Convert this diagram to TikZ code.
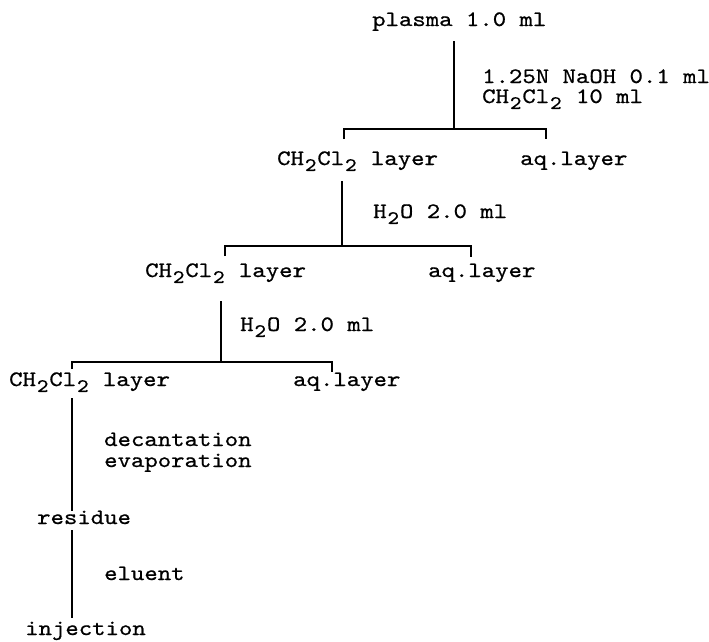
\documentclass[tikz,border=0pt]{standalone}
\usepackage{fontspec}
\newfontfamily\tx{lmmono10-regular.otf}[FakeStretch=1.16,FakeBold=0.7]
% lowered digit occupying one monospace cell
\newcommand\lo[1]{\raisebox{-0.27em}{\makebox[0.609em][c]{\fontsize{19}{19}\selectfont#1}}}
\begin{document}
\begin{tikzpicture}[x=1pt,y=-1pt,
  txt/.style={anchor=base west, inner sep=0pt, font=\tx\fontsize{22}{24}\selectfont},
  link/.style={line width=1.8pt}]
\useasboundingbox (0,0) rectangle (709,641);

% texts
\node[txt] (plasma) at (372,26)  {plasma 1.0 ml};
\node[txt] (r1a)    at (482,83)  {1.25N NaOH 0.1 ml};
\node[txt] (r1b)    at (482,103) {CH\lo2Cl\lo2 10 ml};
\node[txt] (org1)   at (277,165) {CH\lo2Cl\lo2 layer};
\node[txt] (aq1)    at (520,165) {aq.layer};
\node[txt] (r2)     at (373,218) {H\lo2O 2.0 ml};
\node[txt] (org2)   at (145,277) {CH\lo2Cl\lo2 layer};
\node[txt] (aq2)    at (428,277) {aq.layer};
\node[txt] (r3)     at (240,331) {H\lo2O 2.0 ml};
\node[txt] (org3)   at (9,386)   {CH\lo2Cl\lo2 layer};
\node[txt] (aq3)    at (293,386) {aq.layer};
\node[txt] (r4a)    at (104,446) {decantation};
\node[txt] (r4b)    at (104,467) {evaporation};
\node[txt] (res)    at (37,524)  {residue};
\node[txt] (r5)     at (104,580) {eluent};
\node[txt] (inj)    at (25,635)  {injection};

% first extraction
\coordinate (s1) at (454,129);
\coordinate (b1l) at (344,139);
\coordinate (b1r) at (546,139);
\draw[link] ([yshift=-10pt]plasma.south -| s1) -- (s1);
\draw[link] (b1l) |- (s1) -| (b1r);

% second extraction
\coordinate (s2) at (342,246);
\coordinate (b2l) at (225,256);
\coordinate (b2r) at (471,257);
\draw[link] ([yshift=-10pt]org1.south -| s2) -- (s2);
\draw[link] (b2l) |- (s2) -| (b2r);

% third extraction
\coordinate (s3) at (221,362);
\coordinate (b3l) at (72,369);
\coordinate (b3r) at (332,372);
\draw[link] ([yshift=-18pt]org2.south -| s3) -- (s3);
\draw[link] (b3l) |- (s3) -| (b3r);

% work-up of the organic layer
\coordinate (c1) at (72,398);
\coordinate (c2) at (72,511);
\coordinate (c3) at (72,530);
\coordinate (c4) at (72,618);
\draw[link] (c1) -- (c2);
\draw[link] (c3) -- (c4);
\end{tikzpicture}
\end{document}
